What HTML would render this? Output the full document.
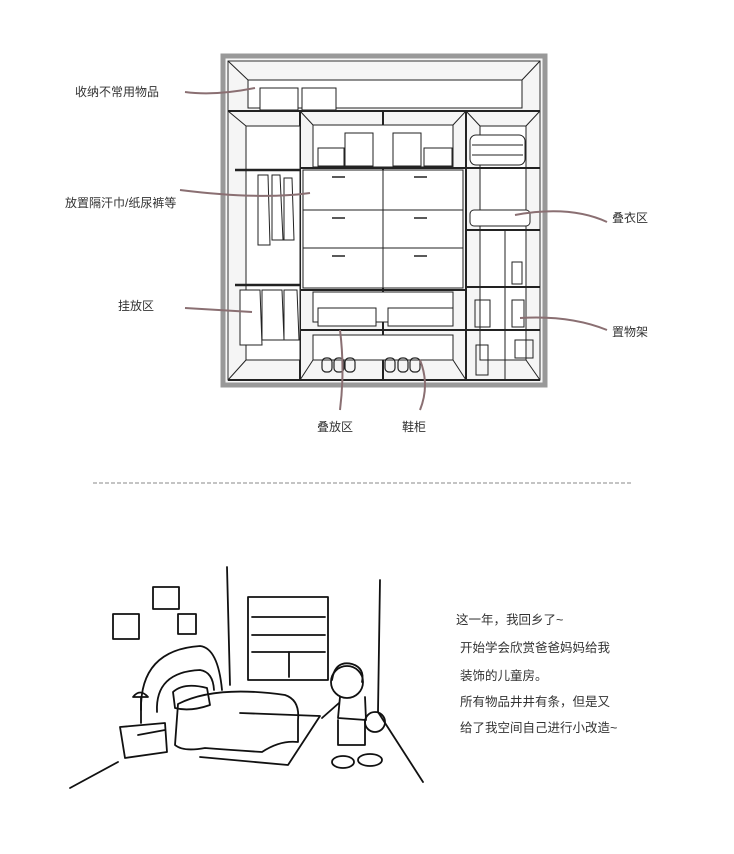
<!DOCTYPE html>
<html><head><meta charset="utf-8"><style>
html,body{margin:0;padding:0;background:#fff;}
svg{display:block}
text{font-family:"Liberation Sans","Noto Sans CJK SC",sans-serif;fill:#333;}
</style></head><body>
<svg width="734" height="854" viewBox="0 0 734 854" xmlns="http://www.w3.org/2000/svg">
<g stroke="#222" fill="none" stroke-width="1">
<rect x="223" y="56" width="322" height="329" fill="#f7f7f7" stroke="#999" stroke-width="5"/>
<rect x="228" y="61" width="312" height="319" fill="#f5f5f5" stroke="#333"/>
<rect x="248" y="80" width="274" height="28" fill="#fff"/>
<line x1="228" y1="61" x2="248" y2="80"/><line x1="540" y1="61" x2="522" y2="80"/>
<line x1="228" y1="111" x2="540" y2="111" stroke-width="2"/>
<line x1="300" y1="111" x2="300" y2="380" stroke-width="2"/>
<line x1="383" y1="111" x2="383" y2="380" stroke-width="2"/>
<line x1="466" y1="111" x2="466" y2="380" stroke-width="2"/>
<rect x="246" y="126" width="54" height="234" fill="#fff"/>
<line x1="228" y1="111" x2="246" y2="126"/><line x1="228" y1="380" x2="246" y2="360"/>
<line x1="235" y1="170" x2="300" y2="170" stroke-width="2.5"/>
<line x1="235" y1="285" x2="300" y2="285" stroke-width="2.5"/>
<rect x="313" y="125" width="140" height="42" fill="#fff"/>
<line x1="300" y1="111" x2="313" y2="125"/><line x1="466" y1="111" x2="453" y2="125"/>
<line x1="300" y1="168" x2="466" y2="168" stroke-width="2"/>
<rect x="303" y="170" width="160" height="118" fill="#fff"/>
<line x1="303" y1="210" x2="463" y2="210"/><line x1="303" y1="248" x2="463" y2="248"/>
<line x1="383" y1="170" x2="383" y2="288"/>
<g stroke-width="1.5">
<line x1="332" y1="177" x2="345" y2="177"/><line x1="414" y1="177" x2="427" y2="177"/>
<line x1="332" y1="218" x2="345" y2="218"/><line x1="414" y1="218" x2="427" y2="218"/>
<line x1="332" y1="256" x2="345" y2="256"/><line x1="414" y1="256" x2="427" y2="256"/>
</g>
<line x1="300" y1="290" x2="466" y2="290" stroke-width="2"/>
<rect x="313" y="292" width="140" height="30" fill="#fff"/>
<line x1="300" y1="330" x2="466" y2="330" stroke-width="2"/>
<rect x="313" y="335" width="140" height="25" fill="#fff"/>
<line x1="300" y1="380" x2="313" y2="360"/><line x1="466" y1="380" x2="453" y2="360"/>
<rect x="480" y="126" width="46" height="234" fill="#fff"/>
<line x1="466" y1="111" x2="480" y2="126"/><line x1="540" y1="111" x2="526" y2="126"/>
<line x1="466" y1="168" x2="540" y2="168" stroke-width="2"/>
<line x1="466" y1="230" x2="540" y2="230" stroke-width="2"/>
<line x1="466" y1="287" x2="540" y2="287" stroke-width="2"/>
<line x1="466" y1="330" x2="540" y2="330" stroke-width="2"/>
<line x1="505" y1="230" x2="505" y2="380"/>
<line x1="540" y1="380" x2="526" y2="360"/>
<line x1="228" y1="380" x2="540" y2="380" stroke-width="2"/>
<rect x="260" y="88" width="38" height="22" fill="#fff"/><rect x="302" y="88" width="34" height="22" fill="#fff"/>
<rect x="318" y="148" width="26" height="18" fill="#fff"/><rect x="345" y="133" width="28" height="33" fill="#fff"/>
<rect x="393" y="133" width="28" height="33" fill="#fff"/><rect x="424" y="148" width="28" height="18" fill="#fff"/>
<rect x="470" y="135" width="55" height="30" rx="6" fill="#fff"/>
<line x1="472" y1="145" x2="523" y2="145"/><line x1="472" y1="155" x2="523" y2="155"/>
<rect x="470" y="210" width="60" height="16" rx="4" fill="#fff"/>
<path d="M258 175 L268 175 L270 245 L258 245 Z M272 175 L280 175 L283 240 L272 240Z M284 178 L292 178 L294 240 L284 240Z" fill="#fff"/>
<path d="M240 290 L260 290 L262 345 L240 345 Z M262 290 L282 290 L284 340 L262 340Z M284 290 L297 290 L299 340 L284 340Z" fill="#fff"/>
<rect x="318" y="308" width="58" height="18" fill="#fff"/><rect x="388" y="308" width="65" height="18" fill="#fff"/>
<g stroke-width="1.2"><rect x="322" y="358" width="10" height="14" rx="4"/><rect x="334" y="358" width="10" height="14" rx="4"/><rect x="345" y="358" width="10" height="14" rx="4"/>
<rect x="385" y="358" width="10" height="14" rx="4"/><rect x="398" y="358" width="10" height="14" rx="4"/><rect x="410" y="358" width="10" height="14" rx="4"/></g>
<rect x="512" y="262" width="10" height="22"/><rect x="475" y="300" width="15" height="27"/><rect x="512" y="300" width="12" height="27"/><rect x="515" y="340" width="18" height="18"/><rect x="476" y="345" width="12" height="30"/>
</g>
<g stroke="#8a6f72" stroke-width="2" fill="none">
<path d="M185 92 Q215 96 255 88"/><path d="M180 190 Q260 200 310 193"/>
<path d="M185 308 Q220 310 252 312"/><path d="M607 222 Q570 205 515 215"/>
<path d="M607 330 Q570 315 520 318"/><path d="M340 330 Q345 370 340 410"/>
<path d="M420 360 Q430 385 420 410"/>
</g>
<g font-size="12">
<text x="75" y="96">收纳不常用物品</text>
<text x="65" y="207">放置隔汗巾/纸尿裤等</text>
<text x="118" y="310">挂放区</text>
<text x="612" y="222">叠衣区</text>
<text x="612" y="336">置物架</text>
<text x="317" y="431">叠放区</text>
<text x="402" y="431">鞋柜</text>
</g>
<line x1="93" y1="483" x2="632" y2="483" stroke="#888" stroke-dasharray="4,2"/>
<g stroke="#111" stroke-width="1.8" fill="none" stroke-linecap="round" stroke-linejoin="round">
<line x1="227" y1="567" x2="230" y2="685"/>
<line x1="380" y1="580" x2="378" y2="712"/><line x1="378" y1="712" x2="423" y2="782"/>
<line x1="70" y1="788" x2="118" y2="762"/>
<rect x="113" y="614" width="26" height="25"/><rect x="153" y="587" width="26" height="22"/><rect x="178" y="614" width="18" height="20"/>
<rect x="248" y="597" width="80" height="83"/>
<line x1="252" y1="617" x2="325" y2="617"/><line x1="252" y1="635" x2="325" y2="635"/><line x1="252" y1="652" x2="325" y2="652"/><line x1="289" y1="652" x2="289" y2="677"/>
<path d="M141 710 Q140 650 200 646 Q218 648 222 690"/>
<path d="M157 712 Q155 672 200 670 Q213 672 214 690"/>
<path d="M173 692 Q184 682 207 688 L210 705 Q190 712 175 708Z"/>
<path d="M178 704 Q215 685 285 695 Q300 700 298 720 L298 742 Q280 740 262 752 Q230 750 205 748 Q183 752 175 745 Z"/>
<path d="M240 713 L320 716 L288 765 L200 757"/>
<path d="M133 697 Q140 688 148 697 Z"/><line x1="141" y1="697" x2="141" y2="723"/>
<path d="M120 727 L165 723 L167 752 L125 758 Z"/><line x1="138" y1="735" x2="165" y2="730"/>
<circle cx="347" cy="682" r="16"/><path d="M332 680 Q335 660 352 664 Q365 668 362 682"/>
<path d="M340 697 L338 718 L366 720 L365 697"/><path d="M339 703 L322 718"/>
<circle cx="375" cy="722" r="10"/>
<path d="M338 720 L338 745 L365 745 L365 720"/>
<ellipse cx="343" cy="762" rx="11" ry="6"/><ellipse cx="370" cy="760" rx="12" ry="6"/>
</g>
<g font-size="12.5" fill="#444">
<text x="456" y="624">这一年，我回乡了~</text>
<text x="460" y="652">开始学会欣赏爸爸妈妈给我</text>
<text x="460" y="680">装饰的儿童房。</text>
<text x="460" y="706">所有物品井井有条，但是又</text>
<text x="460" y="732">给了我空间自己进行小改造~</text>
</g>
</svg>
</body></html>
